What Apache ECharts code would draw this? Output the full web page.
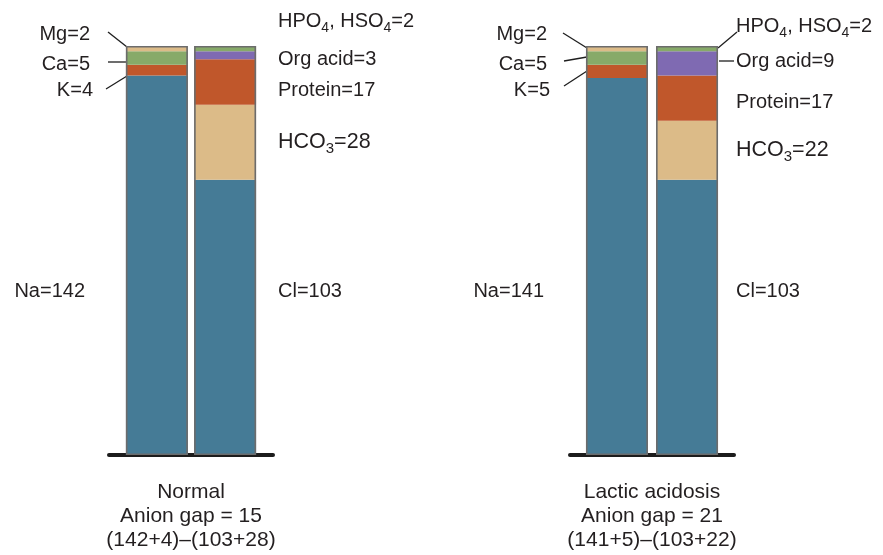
<!DOCTYPE html>
<html>
<head>
<meta charset="utf-8">
<script src="https://cdn.jsdelivr.net/npm/echarts@6/dist/echarts.min.js"></script>
<style>
  html, body { margin: 0; padding: 0; background: #fff; }
  #chart { width: 883px; height: 555px; }
</style>
</head>
<body>
<div id="chart"></div>
<script>
// Serum electrolytes (mEq/L): cations vs anions, normal vs lactic acidosis
const panelNames = ['Normal', 'Lactic acidosis'];
const cationNames = ['Na', 'K', 'Ca', 'Mg'];
const anionNames = ['Cl', 'HCO3', 'Protein', 'Org acid', 'HPO4, HSO4'];
const normalCations = [142, 4, 5, 2];
const normalAnions = [103, 28, 17, 3, 2];
const lacticCations = [141, 5, 5, 2];
const lacticAnions = [103, 22, 17, 9, 2];

const TEAL = '#457b96', ORANGE = '#c0572b', GREEN = '#87aa69', TAN = '#dcbb88', PURPLE = '#7f6ab2';
const cationColors = [TEAL, ORANGE, GREEN, TAN];
const anionColors = [TEAL, TAN, ORANGE, PURPLE, GREEN];

const FONT = '"Liberation Sans", Arial, Helvetica, sans-serif';
const INK = '#231f20';

const panels = [
  { cations: normalCations, anions: normalAnions, gap: '10%' },
  { cations: lacticCations, anions: lacticAnions, gap: '13%' }
];

const sum = a => a.reduce((s, v) => s + v, 0);
const yMax = Math.max(...panels.map(p => Math.max(sum(p.cations), sum(p.anions))));

function bottomLabel(i) {
  const p = panels[i];
  const ag = (p.cations[0] + p.cations[1]) - (p.anions[0] + p.anions[1]);
  return panelNames[i] + '\nAnion gap = ' + ag + '\n(' + p.cations[0] + '+' + p.cations[1] + ')–(' + p.anions[0] + '+' + p.anions[1] + ')';
}

const series = [];
panels.forEach((p, i) => {
  p.cations.forEach((v, k) => series.push({
    type: 'bar', name: cationNames[k], xAxisIndex: i, yAxisIndex: i, stack: 'cat' + i,
    data: [v], barWidth: 62, barGap: p.gap, itemStyle: { color: cationColors[k] }, silent: true
  }));
  p.anions.forEach((v, k) => series.push({
    type: 'bar', name: anionNames[k], xAxisIndex: i, yAxisIndex: i, stack: 'an' + i,
    data: [v], barWidth: 62, barGap: p.gap, itemStyle: { color: anionColors[k] }, silent: true
  }));
  // outline around each whole column
  series.push({
    type: 'bar', xAxisIndex: i + 2, yAxisIndex: i, data: [sum(p.cations)], barWidth: 62, barGap: p.gap, z: 5,
    itemStyle: { color: 'transparent', borderColor: '#6c6c6c', borderWidth: 1.6 }, silent: true
  });
  series.push({
    type: 'bar', xAxisIndex: i + 2, yAxisIndex: i, data: [sum(p.anions)], barWidth: 62, barGap: p.gap, z: 5,
    itemStyle: { color: 'transparent', borderColor: '#6c6c6c', borderWidth: 1.6 }, silent: true
  });
});

const grids = [
  { left: 109, width: 164, top: 46, bottom: 100 },
  { left: 570, width: 164, top: 46, bottom: 100 }
];

const xAxes = [0, 1].map(i => ({
  type: 'category', gridIndex: i, data: [panelNames[i]],
  axisLine: { show: true, lineStyle: { color: '#1c1c1c', width: 4 } },
  axisTick: { show: false },
  axisLabel: {
    formatter: () => bottomLabel(i), fontFamily: FONT, fontSize: 21, lineHeight: 24,
    color: INK, margin: 25, interval: 0
  }
})).concat([0, 1].map(i => ({
  type: 'category', gridIndex: i, data: [panelNames[i]], show: false
})));

const yAxes = [0, 1].map(i => ({
  type: 'value', gridIndex: i, min: 0, max: yMax, show: false
}));

// text labels, chemical formula digits drawn as subscripts
const rich = {
  n: { fontSize: 20, fontFamily: FONT, fill: INK, lineHeight: 28 },
  s: { fontSize: 14, fontFamily: FONT, fill: INK, lineHeight: 14, verticalAlign: 'bottom' },
  b: { fontSize: 21.5, fontFamily: FONT, fill: INK, lineHeight: 28 },
  bs: { fontSize: 15, fontFamily: FONT, fill: INK, lineHeight: 15, verticalAlign: 'bottom' }
};
function richText(name, value, big) {
  const n = big ? 'b' : 'n', s = big ? 'bs' : 's';
  const parts = name.split(/(\d)/).filter(t => t.length);
  return parts.map(t => /^\d$/.test(t) ? '{' + s + '|' + t + '}' : '{' + n + '|' + t + '}').join('')
    + '{' + n + '|=' + value + '}';
}
function label(name, value, x, y, align, big) {
  return {
    type: 'text', x: x, y: y, silent: true,
    style: { text: richText(name, value, big), rich: rich, align: align, verticalAlign: 'middle', fill: INK }
  };
}
function leader(x1, y1, x2, y2) {
  return { type: 'line', silent: true, shape: { x1, y1, x2, y2 }, style: { stroke: '#1e1e1e', lineWidth: 1.3 } };
}

const graphic = [
  // Normal – cations
  label(cationNames[3], normalCations[3], 90, 34, 'right'),
  label(cationNames[2], normalCations[2], 90, 64, 'right'),
  label(cationNames[1], normalCations[1], 93, 90, 'right'),
  label(cationNames[0], normalCations[0], 85, 291, 'right'),
  leader(108, 32, 127, 47), leader(108, 62, 127, 62), leader(106, 89, 127, 76),
  // Normal – anions
  label(anionNames[4], normalAnions[4], 278, 21, 'left'),
  label(anionNames[3], normalAnions[3], 278, 59, 'left'),
  label(anionNames[2], normalAnions[2], 278, 90, 'left'),
  label(anionNames[1], normalAnions[1], 278, 142, 'left', true),
  label(anionNames[0], normalAnions[0], 278, 291, 'left'),
  // Lactic acidosis – cations
  label(cationNames[3], lacticCations[3], 547, 34, 'right'),
  label(cationNames[2], lacticCations[2], 547, 64, 'right'),
  label(cationNames[1], lacticCations[1], 550, 90, 'right'),
  label(cationNames[0], lacticCations[0], 544, 291, 'right'),
  leader(563, 33, 587, 48), leader(564, 61, 587, 57), leader(564, 86, 587, 71),
  // Lactic acidosis – anions
  label(anionNames[4], lacticAnions[4], 736, 26, 'left'),
  label(anionNames[3], lacticAnions[3], 736, 61, 'left'),
  label(anionNames[2], lacticAnions[2], 736, 102, 'left'),
  label(anionNames[1], lacticAnions[1], 736, 150, 'left', true),
  label(anionNames[0], lacticAnions[0], 736, 291, 'left'),
  leader(737, 32, 718, 48), leader(719, 61, 734, 61)
];

const chart = echarts.init(document.getElementById('chart'), null, { renderer: 'canvas' });
chart.setOption({
  animation: false,
  backgroundColor: '#fff',
  grid: grids,
  xAxis: xAxes,
  yAxis: yAxes,
  series: series,
  graphic: graphic
});
</script>
</body>
</html>
